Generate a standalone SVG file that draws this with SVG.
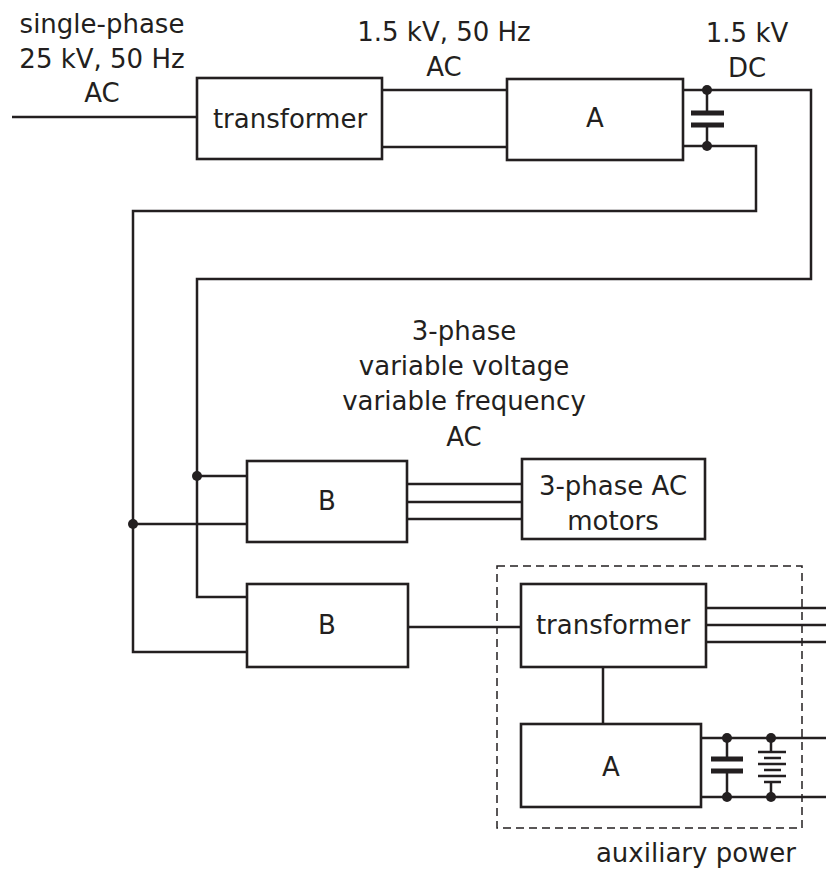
<svg xmlns="http://www.w3.org/2000/svg" width="826" height="871" viewBox="0 0 826 871">
<style>
.box{fill:#fff;stroke:#231f20;stroke-width:2.6}
.w{fill:none;stroke:#231f20;stroke-width:2.5}
.t{font-family:"DejaVu Sans",sans-serif;font-size:26px;fill:#231f20;text-anchor:middle}
.d{fill:#231f20}
.pl{fill:#231f20}
</style>
<rect width="826" height="871" fill="#fff"/>
<g id="connectors">
<path class="w" d="M12 117H197"/>
<path class="w" d="M382 90H507M382 147H507"/>
<path class="w" d="M683 90H811V279H197V597H247"/>
<path class="w" d="M683 146H756V211H133V652H247"/>
<path class="w" d="M707 90V113M707 125V146"/>
<path class="w" d="M197 476H247M133 524H247"/>
<path class="w" d="M407 484H522M407 502H522M407 519H522"/>
<path class="w" d="M408 627H521"/>
<path class="w" d="M706 608H826M706 625H826M706 642H826"/>
<path class="w" d="M603 667V724"/>
<path class="w" d="M701 738H826M701 797H826"/>
<path class="w" d="M727 738V759M727 771V797"/>
<path class="w" d="M771 738V752M771 782V797"/>
<circle class="d" cx="707" cy="90" r="5"/>
<circle class="d" cx="707" cy="146" r="5"/>
<circle class="d" cx="197" cy="476" r="5"/>
<circle class="d" cx="133" cy="524" r="5"/>
<circle class="d" cx="727" cy="738" r="5"/>
<circle class="d" cx="727" cy="797" r="5"/>
<circle class="d" cx="771" cy="738" r="5"/>
<circle class="d" cx="771" cy="797" r="5"/>
</g>
<g id="capacitor-main">
<rect class="pl" x="691" y="110.5" width="33" height="5"/>
<rect class="pl" x="691" y="122.5" width="33" height="5"/>
</g>
<g id="labels">
<text class="t" x="102" y="33">single-phase</text>
<text class="t" x="102" y="68">25 kV, 50 Hz</text>
<text class="t" x="102" y="102">AC</text>
<text class="t" x="444" y="41">1.5 kV, 50 Hz</text>
<text class="t" x="444" y="76">AC</text>
<text class="t" x="747" y="42">1.5 kV</text>
<text class="t" x="747" y="77">DC</text>
<text class="t" x="464" y="340">3-phase</text>
<text class="t" x="464" y="375">variable voltage</text>
<text class="t" x="464" y="410">variable frequency</text>
<text class="t" x="464" y="446">AC</text>
</g>
<g id="transformer1">
<rect class="box" x="197" y="78" width="185" height="81"/>
<text class="t" x="290" y="128">transformer</text>
</g>
<g id="converterA1">
<rect class="box" x="507" y="79" width="176" height="81"/>
<text class="t" x="595" y="127">A</text>
</g>
<g id="inverterB1">
<rect class="box" x="247" y="461" width="160" height="81"/>
<text class="t" x="327" y="510">B</text>
</g>
<g id="motors">
<rect class="box" x="522" y="459" width="183" height="80"/>
<text class="t" x="613" y="495">3-phase AC</text>
<text class="t" x="613" y="530">motors</text>
</g>
<g id="inverterB2">
<rect class="box" x="247" y="584" width="161" height="83"/>
<text class="t" x="327" y="634">B</text>
</g>
<g id="auxiliary">
<rect x="497" y="566" width="305" height="262" fill="none" stroke="#231f20" stroke-width="1.5" stroke-dasharray="8 5"/>
<text class="t" x="696" y="862">auxiliary power</text>
</g>
<g id="transformer2">
<rect class="box" x="521" y="584" width="185" height="83"/>
<text class="t" x="613" y="634">transformer</text>
</g>
<g id="converterA2">
<rect class="box" x="521" y="724" width="180" height="83"/>
<text class="t" x="611" y="776">A</text>
</g>
<g id="capacitor-aux">
<rect class="pl" x="711" y="756.5" width="32" height="5"/>
<rect class="pl" x="711" y="768.5" width="32" height="5"/>
</g>
<g id="battery">
<path class="w" d="M758 752H786M764 758H781M758 764H786M764 770H781M758 776H786M764 782H781"/>
</g>
</svg>
